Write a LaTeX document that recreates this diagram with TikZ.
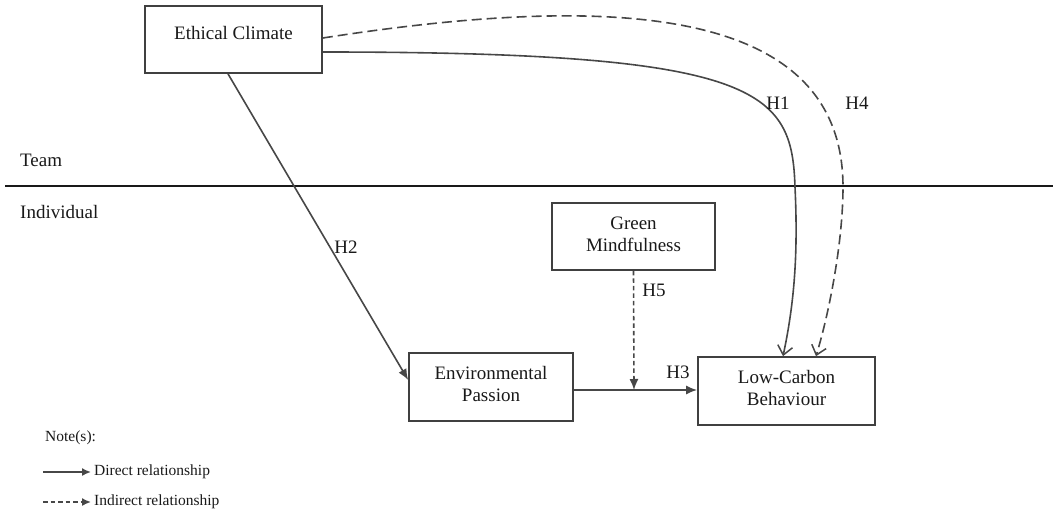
\documentclass[tikz,border=0pt]{standalone}
\usepackage{fontspec}
\setmainfont{Liberation Serif}
\usetikzlibrary{arrows.meta,calc}
\begin{document}
\begin{tikzpicture}[x=1pt,y=-1pt,
  box/.style={draw=black!75,line width=1.7pt,inner sep=0pt},
  lbl/.style={font=\fontsize{19pt}{22pt}\selectfont,align=center,inner sep=0pt,text=black!90},
  small/.style={font=\fontsize{15.5pt}{18pt}\selectfont,inner sep=0pt,text=black!90},
  conn/.style={draw=black!72,line width=1.6pt},
  filled/.style={-{Latex[length=11pt,width=9pt]}},
  smallhead/.style={-{Latex[length=9pt,width=8pt]}},
  openhead/.style={-{Straight Barb[length=9pt,width=15pt,line width=1.5pt]}},
  longdash/.style={dash pattern=on 10pt off 5pt},
  shortdash/.style={dash pattern=on 4.5pt off 3pt},
]
\useasboundingbox (0,0) rectangle (1053,517);
% boxes
\node[box,minimum width=177pt,minimum height=67pt] (ec) at (233.5,39.5) {};
\node[lbl] (ect) at (233.5,33) {Ethical Climate};
\node[box,minimum width=163pt,minimum height=67pt] (gm) at (633.5,236.5) {};
\node[lbl] (gmt) at (633.5,234) {Green\\Mindfulness};
\node[box,minimum width=164pt,minimum height=68pt] (ep) at (491,387) {};
\node[lbl] (ept) at (491,384) {Environmental\\Passion};
\node[box,minimum width=177pt,minimum height=68pt] (lcb) at (786.5,391) {};
\node[lbl] (lcbt) at (786.5,388) {Low-Carbon\\Behaviour};
% level divider
\draw[line width=2.8pt,black!90] (5,186) -- (1053,186);
\node[lbl,anchor=west] (team) at (20,160) {Team};
\node[lbl,anchor=west] (ind) at (20,212) {Individual};
% connectors
\draw[conn,filled] ([xshift=-5.5pt]ec.south) -- ([yshift=7pt]ep.west);
\coordinate (m) at (634,390);
\draw[conn,filled] ([yshift=-3pt]ep.east) -- ([yshift=1pt]lcb.west);
\draw[conn,shortdash,filled] (gm.south) -- (m);
\draw[conn,openhead] ([yshift=-12.5pt]ec.east) .. controls (760,52) and (792,90) .. (795,187)
   .. controls (798,250) and (795,300) .. ([xshift=-3.5pt]lcb.north);
\draw[conn,longdash,openhead] ([yshift=1.5pt]ec.east) .. controls (600,-5) and (843,0) .. (843,187)
   .. controls (843,240) and (830,310) .. ([xshift=29.5pt]lcb.north);
% hypothesis labels
\node[lbl] (h1) at (778,103) {H1};
\node[lbl] (h4) at (857,103) {H4};
\node[lbl] (h2) at (346,247) {H2};
\node[lbl] (h5) at (654,290) {H5};
\node[lbl] (h3) at (678,372) {H3};
% legend
\node[small,anchor=west] (note) at (45,438) {Note(s):};
\node[small,anchor=west] (dr) at (94,472) {Direct relationship};
\node[small,anchor=west] (ir) at (94,502) {Indirect relationship};
\coordinate (d1) at (43,472);
\coordinate (i1) at (43,502);
\draw[conn,smallhead] (d1) -- ([xshift=-3pt]dr.west);
\draw[conn,shortdash,smallhead] (i1) -- ([xshift=-3pt]ir.west);
\end{tikzpicture}
\end{document}
